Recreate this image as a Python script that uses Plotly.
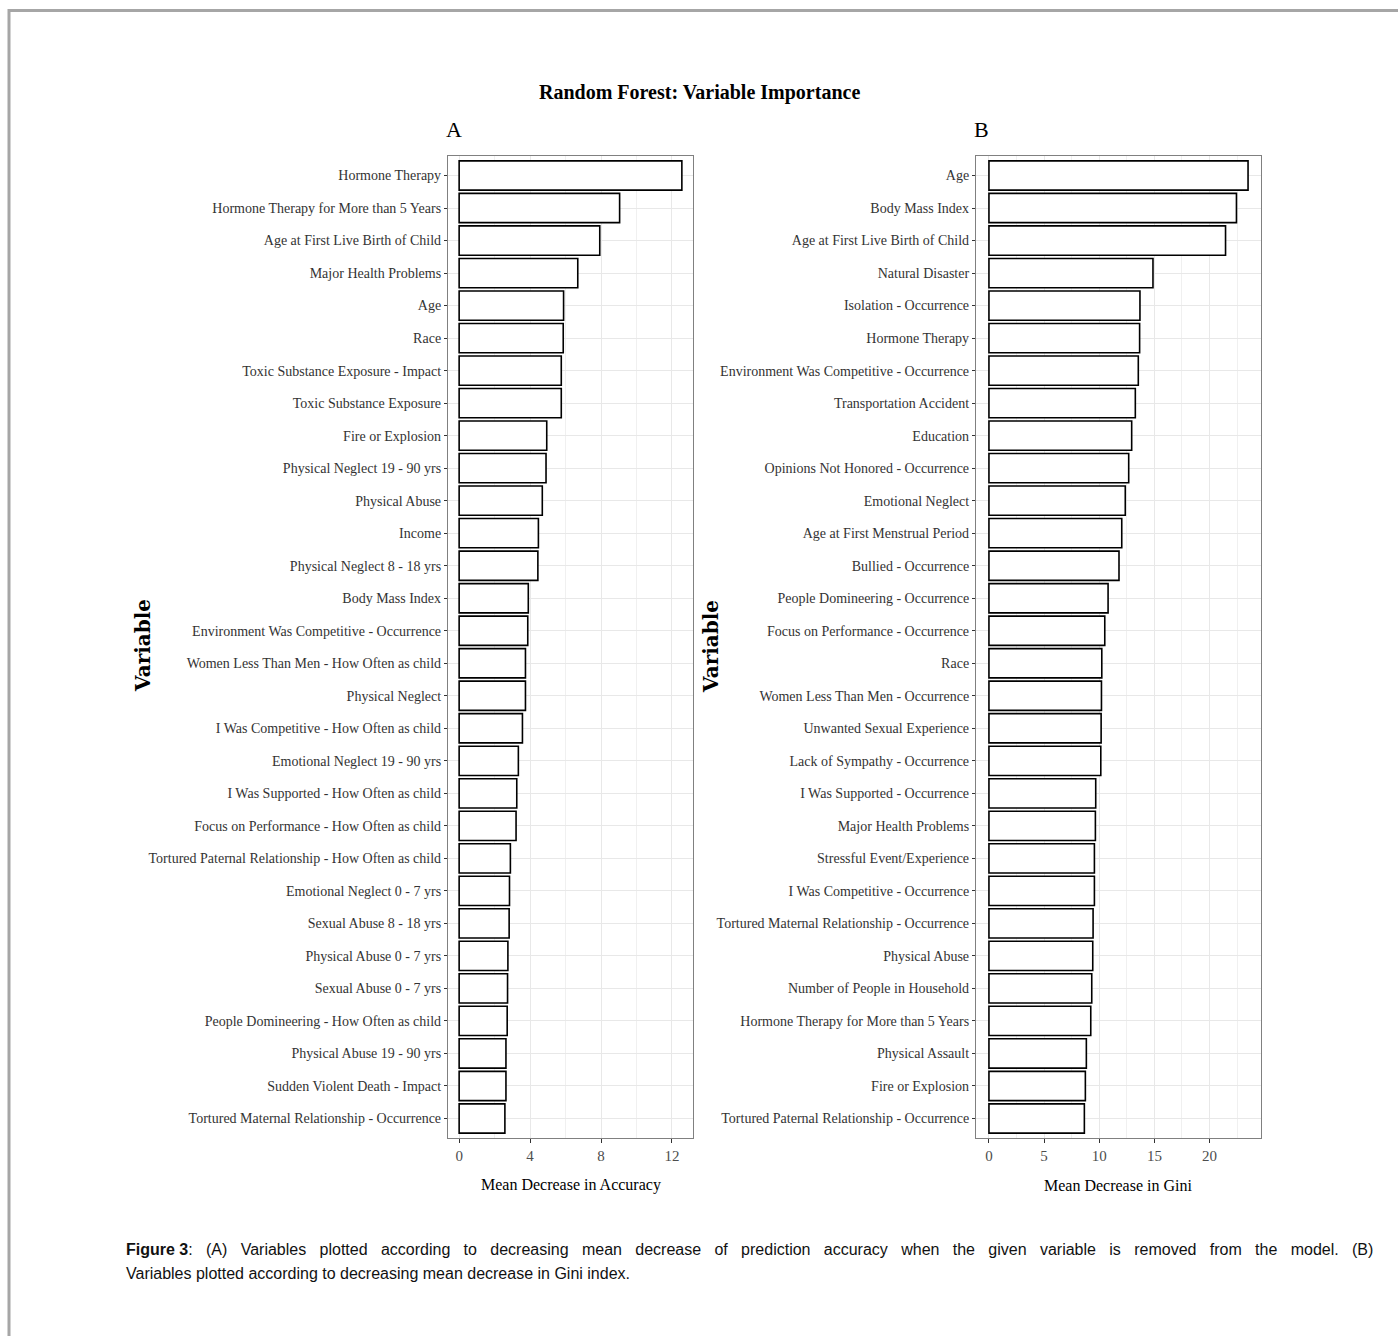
import plotly.graph_objects as go

# ---------------- data ----------------
A_vars = ["Hormone Therapy", "Hormone Therapy for More than 5 Years", "Age at First Live Birth of Child",
          "Major Health Problems", "Age", "Race", "Toxic Substance Exposure - Impact",
          "Toxic Substance Exposure", "Fire or Explosion", "Physical Neglect 19 - 90 yrs",
          "Physical Abuse", "Income", "Physical Neglect 8 - 18 yrs", "Body Mass Index",
          "Environment Was Competitive - Occurrence", "Women Less Than Men - How Often as child",
          "Physical Neglect", "I Was Competitive - How Often as child", "Emotional Neglect 19 - 90 yrs",
          "I Was Supported - How Often as child", "Focus on Performance - How Often as child",
          "Tortured Paternal Relationship - How Often as child", "Emotional Neglect 0 - 7 yrs",
          "Sexual Abuse 8 - 18 yrs", "Physical Abuse 0 - 7 yrs", "Sexual Abuse 0 - 7 yrs",
          "People Domineering - How Often as child", "Physical Abuse 19 - 90 yrs",
          "Sudden Violent Death - Impact", "Tortured Maternal Relationship - Occurrence"]
A_vals = [12.56, 9.05, 7.93, 6.69, 5.89, 5.87, 5.76, 5.76, 4.94, 4.90,
          4.69, 4.47, 4.44, 3.90, 3.87, 3.74, 3.74, 3.57, 3.34, 3.25,
          3.21, 2.89, 2.84, 2.82, 2.75, 2.73, 2.71, 2.64, 2.64, 2.58]

B_vars = ["Age", "Body Mass Index", "Age at First Live Birth of Child", "Natural Disaster",
          "Isolation - Occurrence", "Hormone Therapy", "Environment Was Competitive - Occurrence",
          "Transportation Accident", "Education", "Opinions Not Honored - Occurrence",
          "Emotional Neglect", "Age at First Menstrual Period", "Bullied - Occurrence",
          "People Domineering - Occurrence", "Focus on Performance - Occurrence", "Race",
          "Women Less Than Men - Occurrence", "Unwanted Sexual Experience",
          "Lack of Sympathy - Occurrence", "I Was Supported - Occurrence", "Major Health Problems",
          "Stressful Event/Experience", "I Was Competitive - Occurrence",
          "Tortured Maternal Relationship - Occurrence", "Physical Abuse",
          "Number of People in Household", "Hormone Therapy for More than 5 Years",
          "Physical Assault", "Fire or Explosion", "Tortured Paternal Relationship - Occurrence"]
B_vals = [23.49, 22.44, 21.45, 14.87, 13.69, 13.66, 13.54, 13.27, 12.94, 12.67,
          12.36, 12.04, 11.79, 10.80, 10.50, 10.23, 10.20, 10.17, 10.14, 9.68,
          9.65, 9.56, 9.56, 9.44, 9.41, 9.32, 9.23, 8.83, 8.74, 8.65]

A_ticks = [0, 4, 8, 12]
B_ticks = [0, 5, 10, 15, 20]

TITLE = "Random Forest: Variable Importance"
CAPTION_1_WORDS = ["<b>Figure 3</b>:", "(A)", "Variables", "plotted", "according", "to", "decreasing",
                   "mean", "decrease", "of", "prediction", "accuracy", "when", "the", "given", "variable",
                   "is", "removed", "from", "the", "model.", "(B)"]
CAPTION_2 = "Variables plotted according to decreasing mean decrease in Gini index."

# ---------------- figure ----------------
W, H = 1398, 1336
SERIF = "Liberation Serif, Times New Roman, serif"
SANS = "Liberation Sans, Arial, sans-serif"

fig = go.Figure()
bar_style = dict(orientation="h", width=0.9, marker=dict(color="white", line=dict(color="black", width=1.6)),
                 showlegend=False, hoverinfo="x+y")
fig.add_trace(go.Bar(x=A_vals, y=A_vars, xaxis="x", yaxis="y", **bar_style))
fig.add_trace(go.Bar(x=B_vals, y=B_vars, xaxis="x2", yaxis="y2", **bar_style))


def px_x(p):
    return p / W


def px_y(p):
    return 1 - p / H


def xaxis_cfg(domain, vals, ticks):
    m = max(vals)
    step = ticks[1] - ticks[0]
    return dict(domain=domain, range=[-0.05 * m, 1.05 * m], tickvals=ticks,
                showline=True, mirror=True, linecolor="#808080", linewidth=1.2,
                showgrid=True, gridcolor="#e8e8e8", gridwidth=1.3,
                minor=dict(dtick=step / 2, tick0=0, showgrid=True, gridcolor="#f0f0f0", gridwidth=0.9),
                ticks="outside", ticklen=4, tickcolor="#333333", tickwidth=1,
                tickfont=dict(family=SERIF, size=15, color="#4d4d4d"), zeroline=False)


def yaxis_cfg(domain, cats):
    n = len(cats)
    return dict(domain=domain, type="category", categoryorder="array", categoryarray=cats,
                range=[n - 1 + 0.6, -0.6],
                showline=True, mirror=True, linecolor="#808080", linewidth=1.2,
                showgrid=True, gridcolor="#e8e8e8", gridwidth=1.3,
                ticks="outside", ticklen=3, tickcolor="#333333", tickwidth=1,
                tickfont=dict(family=SERIF, size=14, color="#333333"), zeroline=False)


ydom = [px_y(1138), px_y(156)]
fig.update_layout(
    width=W, height=H, margin=dict(l=0, r=0, t=0, b=0),
    paper_bgcolor="white", plot_bgcolor="white",
    bargap=0.1,
    xaxis=xaxis_cfg([px_x(448), px_x(693)], A_vals, A_ticks),
    yaxis=yaxis_cfg(ydom, A_vars),
    xaxis2=xaxis_cfg([px_x(976), px_x(1261)], B_vals, B_ticks),
    yaxis2=yaxis_cfg(ydom, B_vars),
)
fig.update_layout(xaxis2=dict(anchor="y2"), yaxis2=dict(anchor="x2"))


def ann(text, x, y, size, family=SERIF, color="black", textangle=0, xanchor="center"):
    fig.add_annotation(text=text, x=px_x(x), y=px_y(y), xref="paper", yref="paper",
                       showarrow=False, xanchor=xanchor, yanchor="middle", textangle=textangle,
                       font=dict(family=family, size=size, color=color))


ann("<b>" + TITLE + "</b>", 699, 92, 20)
ann("A", 454, 130, 22)
ann("B", 981, 130, 22)
ann("Mean Decrease in Accuracy", 571, 1185, 16)
ann("Mean Decrease in Gini", 1118, 1185, 16)
ann("<b>Variable</b>", 143, 646, 20, family="DejaVu Serif", textangle=-90)
ann("<b>Variable</b>", 711, 646, 20, family="DejaVu Serif", textangle=-90)

# justified first caption line: widen the gaps between words
caption_1 = ("\u00a0\u00a0\u00a0").join(CAPTION_1_WORDS)
ann(caption_1, 124, 1249, 16, family=SANS, color="#111111", xanchor="left")
ann(CAPTION_2, 124, 1273, 16, family=SANS, color="#111111", xanchor="left")

# frame around the figure (top and left edges visible)
fig.add_shape(type="line", xref="paper", yref="paper", x0=px_x(8), x1=1, y0=px_y(10.5), y1=px_y(10.5),
              line=dict(color="#a6a6a6", width=3))
fig.add_shape(type="line", xref="paper", yref="paper", x0=px_x(9), x1=px_x(9), y0=0, y1=px_y(9),
              line=dict(color="#a6a6a6", width=3))

fig.write_html("out.html")
